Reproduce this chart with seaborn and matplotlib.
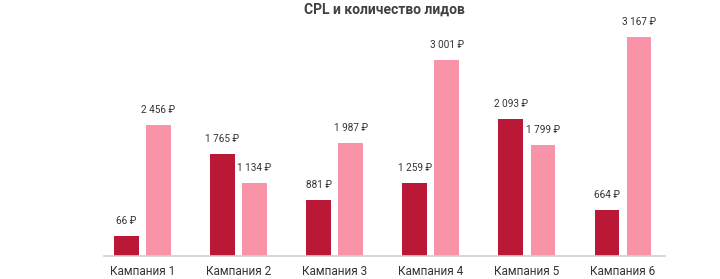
import matplotlib
matplotlib.use("Agg")
import matplotlib.pyplot as plt
import seaborn as sns
import pandas as pd

campaigns = ["Кампания 1", "Кампания 2", "Кампания 3", "Кампания 4", "Кампания 5", "Кампания 6"]
series_names = ["CPL", "Лиды"]
dark_heights = [19.5, 102, 55.5, 73, 136.5, 45.5]
pink_heights = [130.5, 73, 113, 195.5, 110.5, 219]
dark_labels = ["66 ₽", "1 765 ₽", "881 ₽", "1 259 ₽", "2 093 ₽", "664 ₽"]
pink_labels = ["2 456 ₽", "1 134 ₽", "1 987 ₽", "3 001 ₽", "1 799 ₽", "3 167 ₽"]
colors = ["#B91836", "#F993A8"]

df = pd.DataFrame({
    "campaign": campaigns * 2,
    "series": [series_names[0]] * 6 + [series_names[1]] * 6,
    "value": dark_heights + pink_heights,
})

sns.set_theme(style="white")
plt.rcParams["font.family"] = ["Roboto", "DejaVu Sans"]

fig = plt.figure(figsize=(7.2, 2.79), dpi=100)
ax = fig.add_axes([104 / 720, (279 - 255.5) / 279, 561 / 720, 230 / 279])

sns.barplot(data=df, x="campaign", y="value", hue="series", palette=colors,
            width=0.667, gap=0.24, linewidth=0, saturation=1, legend=False, ax=ax,
            errorbar=None)

for cont, labs in zip(ax.containers, [dark_labels, pink_labels]):
    ax.bar_label(cont, labels=labs, padding=7, fontsize=7.2, color="#333333")

ax.set_xlim(-0.4, 5.44)
ax.set_ylim(0, 230)
ax.set_xlabel("")
ax.set_ylabel("")
ax.set_yticks([])
for s in ["top", "right", "left"]:
    ax.spines[s].set_visible(False)
ax.spines["bottom"].set_color("#D0D0D0")
ax.spines["bottom"].set_linewidth(1.2)
ax.tick_params(axis="x", length=0, pad=7, labelsize=8.5, labelcolor="#333333")

fig.text(384 / 720, 1 - 9.5 / 279, "CPL и количество лидов", ha="center", va="center",
         fontsize=10, fontweight="bold", color="#404040")

fig.savefig("out.png", dpi=100)
